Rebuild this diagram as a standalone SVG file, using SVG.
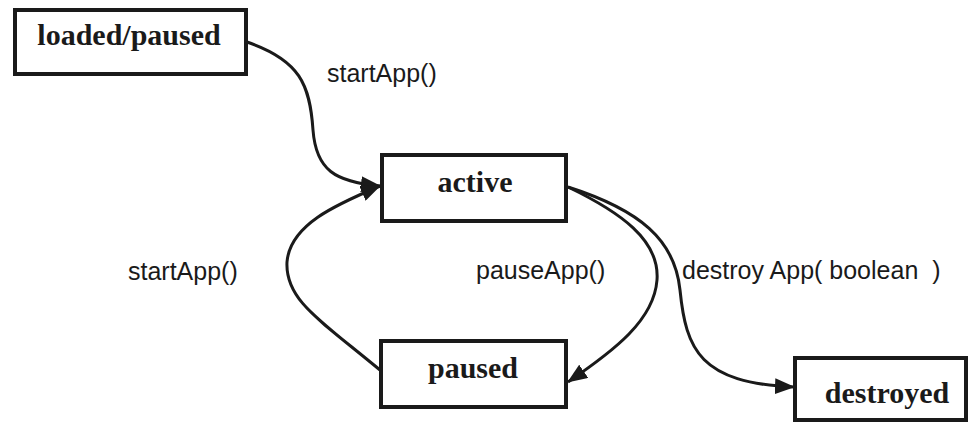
<svg xmlns="http://www.w3.org/2000/svg" width="971" height="423" viewBox="0 0 971 423">
<style>
.box{fill:#fff;stroke:#1a1a1a;stroke-width:4}
.nl{font-family:"Liberation Serif",serif;font-weight:bold;font-size:30px;fill:#1a1a1a;text-anchor:middle}
.el{font-family:"Liberation Sans",Arial,sans-serif;font-size:25px;fill:#1a1a1a}
.edge{fill:none;stroke:#1a1a1a;stroke-width:3}
</style>
<defs>
<marker id="ah" viewBox="0 0 20 16" refX="19" refY="8" markerWidth="20" markerHeight="16" markerUnits="userSpaceOnUse" orient="auto">
<path d="M0,0 L20,8 L0,16 z" fill="#1a1a1a"/>
</marker>
</defs>
<rect width="971" height="423" fill="#fff"/>
<g id="connectors">
<path class="edge" d="M247,42 C300,60 310,85 313,130 C316,170 335,182 380,186" marker-end="url(#ah)"/>
<path class="edge" d="M380,370 C320,320 285,300 287,262 C290,225 335,205 380,186" marker-end="url(#ah)"/>
<path class="edge" d="M568,187 C620,212 660,240 657,280 C654,320 615,350 568,382" marker-end="url(#ah)"/>
<path class="edge" d="M568,187 C640,210 675,240 680,290 C686,350 700,383 794,387" marker-end="url(#ah)"/>
</g>
<g id="labels">
<text class="el" x="327" y="82">startApp()</text>
<text class="el" x="128" y="280">startApp()</text>
<text class="el" x="476" y="279">pauseApp()</text>
<text class="el" x="682" y="279" xml:space="preserve">destroy App( boolean  )</text>
</g>
<g id="node-loaded">
<rect class="box" x="15" y="10" width="231" height="64"/>
<text class="nl" x="129" y="45">loaded/paused</text>
</g>
<g id="node-active">
<rect class="box" x="382" y="155" width="184" height="66"/>
<text class="nl" x="475" y="192">active</text>
</g>
<g id="node-paused">
<rect class="box" x="381" y="341" width="185" height="66"/>
<text class="nl" x="473" y="378">paused</text>
</g>
<g id="node-destroyed">
<rect class="box" x="795" y="358" width="171" height="62"/>
<text class="nl" x="887" y="403">destroyed</text>
</g>
</svg>
